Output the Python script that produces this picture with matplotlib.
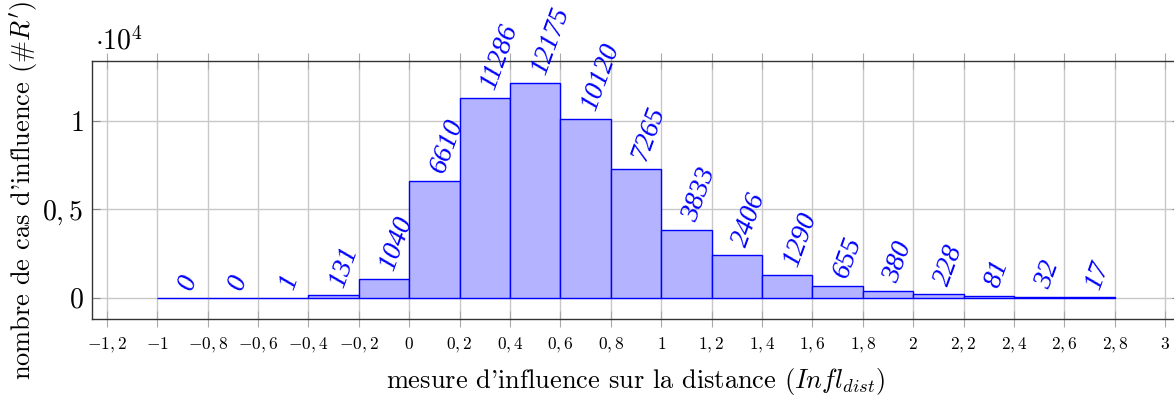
import numpy as np
import matplotlib
matplotlib.use("Agg")
import matplotlib.pyplot as plt

# ---- data ----
bin_edges = [-1.0, -0.8, -0.6, -0.4, -0.2, 0.0, 0.2, 0.4, 0.6, 0.8, 1.0,
             1.2, 1.4, 1.6, 1.8, 2.0, 2.2, 2.4, 2.6, 2.8]
counts = [0, 0, 1, 131, 1040, 6610, 11286, 12175, 10120, 7265, 3833,
          2406, 1290, 655, 380, 228, 81, 32, 17]
xtick_vals = [-1.2, -1.0, -0.8, -0.6, -0.4, -0.2, 0.0, 0.2, 0.4, 0.6, 0.8,
              1.0, 1.2, 1.4, 1.6, 1.8, 2.0, 2.2, 2.4, 2.6, 2.8, 3.0]
ytick_vals = [0, 5000, 10000]
ytick_labels = [r"$0$", r"$0,5$", r"$1$"]

plt.rcParams['font.family'] = ['cmr10']
plt.rcParams['mathtext.fontset'] = 'cm'
plt.rcParams['axes.unicode_minus'] = False
plt.rcParams['axes.formatter.use_mathtext'] = True

W, H = 1174, 403
fig = plt.figure(figsize=(W / 100, H / 100), dpi=100)
left_px, right_px = 91.7, 1180.3
top_px, bot_px = 61.0, 319.3
ax = fig.add_axes([left_px / W, 1 - bot_px / H, (right_px - left_px) / W, (bot_px - top_px) / H])

edges = np.array(bin_edges)
widths = np.diff(edges)
ax.bar(edges[:-1], counts, width=widths, align='edge', color='#b3b3ff',
       edgecolor='#0000ff', linewidth=1.0, zorder=3)

ax.set_xlim(-1.26, 3.06)
ax.set_ylim(-1217.5, 13392.5)

def fmt(v):
    s = ("%g" % v).replace('.', ',')
    if s == '-0':
        s = '0'
    return "$" + s + "$"

ax.set_xticks(xtick_vals)
ax.set_xticklabels([fmt(v) for v in xtick_vals], fontsize=12.5)
ax.set_yticks(ytick_vals)
ax.set_yticklabels(ytick_labels, fontsize=20)

ax.grid(True, color='#c8c8c8', linewidth=1.0, zorder=0)
ax.set_axisbelow(True)
ax.tick_params(axis='x', direction='inout', length=12, color='#aaaaaa', top=True, pad=6)
ax.tick_params(axis='y', direction='in', length=6, color='#888888', right=True, pad=6)
for s in ax.spines.values():
    s.set_linewidth(1.0)
    s.set_color('#333333')

centers = edges[:-1] + widths / 2
ang = np.deg2rad(70)
for c, v in zip(centers, counts):
    ax.annotate(str(v), xy=(c, v), xytext=(7 * np.cos(ang), 7 * np.sin(ang)),
                textcoords='offset points', rotation=70, rotation_mode='anchor',
                ha='left', va='center', color='#0000ff', fontsize=20,
                family='Liberation Serif', style='italic', zorder=5)

ax.set_xlabel(r"mesure d'influence sur la distance $(Infl_{dist})$", fontsize=19, labelpad=8)
ax.set_ylabel(r"nombre de cas d'influence (#$R'$)", fontsize=19, labelpad=2)

ax.text(0.003, 1.043, r"$\cdot 10^4$", transform=ax.transAxes, fontsize=20,
        ha='left', va='baseline')

fig.savefig("out.png", dpi=100)
